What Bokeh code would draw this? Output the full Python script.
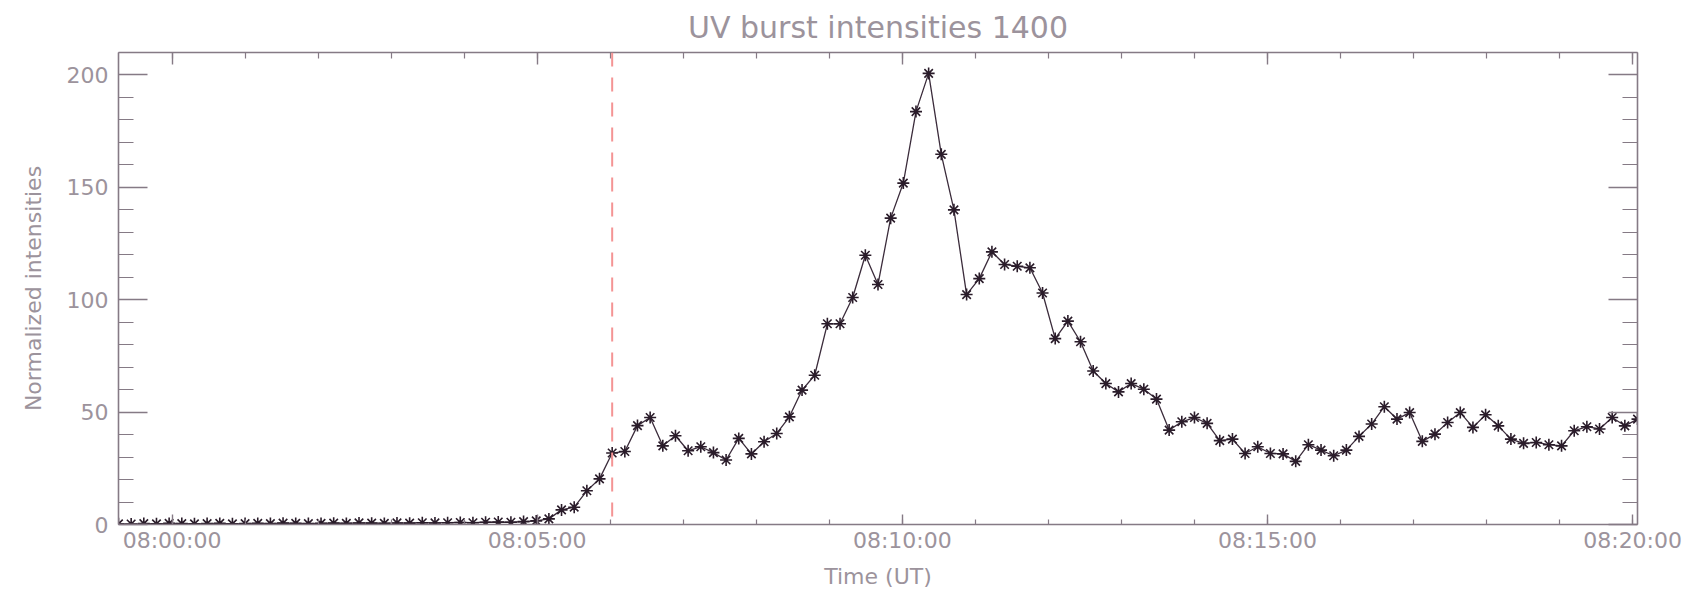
import pandas as pd
from bokeh.plotting import figure
from bokeh.models import (Range1d, FixedTicker, DatetimeAxis, LinearAxis,
                          DatetimeTickFormatter, CustomJSTickFormatter,
                          Span, ColumnDataSource)
from bokeh.embed import file_html
from bokeh.resources import INLINE

# IRIS SJI 1400 light curve of the UV burst, normalised intensities
START_TIME = "2014-09-03 07:59:16"
CADENCE_S = 10.4
intensity = [
    0.3, 0.2, 0.4, 0.3, 0.5, 0.4, 0.3, 0.4, 0.5, 0.3,
    0.4, 0.5, 0.4, 0.6, 0.5, 0.4, 0.5, 0.6, 0.5, 0.7,
    0.6, 0.5, 0.7, 0.6, 0.8, 0.7, 0.8, 0.9, 0.8, 1.0,
    1.1, 1.0, 1.3, 1.6, 2.5, 6.5, 7.7, 15.0, 20.3, 31.8,
    32.5, 44.0, 47.6, 35.0, 39.5, 32.8, 34.6, 32.0, 28.7, 38.3,
    31.4, 36.8, 40.5, 47.9, 59.8, 66.4, 89.3, 89.3, 101.0, 119.8,
    106.8, 136.3, 151.9, 183.7, 200.7, 164.7, 140.0, 102.3, 109.4, 121.3,
    115.7, 114.9, 114.2, 103.0, 82.7, 90.5, 81.3, 68.3, 62.7, 59.0,
    62.7, 60.2, 55.8, 42.0, 45.7, 47.6, 45.0, 37.3, 38.0, 31.6,
    34.6, 31.6, 31.4, 28.1, 35.5, 33.1, 30.6, 33.1, 39.2, 44.7,
    52.4, 46.9, 49.8, 37.0, 40.2, 45.4, 49.8, 43.2, 48.8, 43.9,
    38.0, 36.1, 36.5, 35.5, 35.0, 41.7, 43.5, 42.5, 47.6, 43.9,
    46.9,
]
MARK_INDEX = 39          # frame marked by the dashed line
y_ticks = [0, 50, 100, 150, 200]
y_minor = list(range(0, 211, 10))
x_tick_times = ["08:00:00", "08:05:00", "08:10:00", "08:15:00", "08:20:00"]

DAY = START_TIME.split()[0]
times = pd.Timestamp(START_TIME) + pd.to_timedelta(
    [i * CADENCE_S for i in range(len(intensity))], unit="s")
src = ColumnDataSource(dict(t=times, v=intensity))

major_ms = [pd.Timestamp(f"{DAY} {s}").value / 1e6 for s in x_tick_times]
minor_ms = [major_ms[0] + k * 60000 for k in range(-1, 21)]

AX = "#857a85"
TXT = "#9c939c"
FONT = "DejaVu Sans"

p = figure(width=1706, height=591, x_axis_type="datetime",
           output_backend="svg", toolbar_location=None,
           x_range=Range1d(times[0], times[-1]),
           y_range=Range1d(0, 210),
           min_border_left=118, min_border_right=69,
           min_border_top=51, min_border_bottom=67)
p.grid.visible = False
p.outline_line_color = None
p.background_fill_color = "white"
p.border_fill_color = "white"

p.title.text = "UV burst intensities 1400"
p.title.align = "center"
p.title.text_font = FONT
p.title.text_font_size = "30px"
p.title.text_font_style = "normal"
p.title.text_color = TXT
p.title.standoff = 15
p.title.offset = 0

xt = FixedTicker(ticks=major_ms, minor_ticks=minor_ms)
yt = FixedTicker(ticks=y_ticks, minor_ticks=y_minor)
fmt = DatetimeTickFormatter(seconds="%H:%M:%S", minsec="%H:%M:%S",
                            minutes="%H:%M:%S", hourmin="%H:%M:%S",
                            hours="%H:%M:%S")
blank = CustomJSTickFormatter(code="return ''")


def style(ax, tick_in, minor_in):
    ax.axis_line_color = AX
    ax.axis_line_width = 1.6
    ax.major_tick_line_color = AX
    ax.minor_tick_line_color = AX
    ax.major_tick_line_width = 1.4
    ax.minor_tick_line_width = 1.2
    ax.major_tick_in = tick_in
    ax.major_tick_out = 0
    ax.minor_tick_in = minor_in
    ax.minor_tick_out = 0
    ax.major_label_text_font = FONT
    ax.major_label_text_color = TXT
    ax.axis_label_text_font = FONT
    ax.axis_label_text_color = TXT
    ax.axis_label_text_font_style = "normal"


xb = p.xaxis[0]
xb.ticker = xt
xb.formatter = fmt
style(xb, 10, 5)
xb.major_label_text_font_size = "22px"
xb.major_label_text_line_height = 1.0
xb.major_label_standoff = 3
xb.axis_label = "Time (UT)"
xb.axis_label_text_font_size = "22px"
xb.axis_label_text_line_height = 1.0
xb.axis_label_standoff = 8

yl = p.yaxis[0]
yl.ticker = yt
style(yl, 29, 15)
yl.major_label_text_font_size = "22px"
yl.major_label_standoff = 10
yl.axis_label = "Normalized intensities"
yl.axis_label_text_font_size = "22px"
yl.axis_label_standoff = 18

# mirrored tick marks on the top and right edges, without labels
xtop = DatetimeAxis(ticker=xt, formatter=blank)
style(xtop, 12, 6)
xtop.major_label_standoff = 0
p.add_layout(xtop, "above")

yr = LinearAxis(ticker=yt, formatter=blank)
style(yr, 29, 15)
yr.major_label_standoff = 0
p.add_layout(yr, "right")

p.add_layout(Span(location=times[MARK_INDEX], dimension="height",
                  line_color="#f49494", line_width=2, line_dash="14 11"))

p.line("t", "v", source=src, line_color="#3b2c3b", line_width=1.3)
p.scatter("t", "v", source=src, marker="asterisk", size=12,
          line_color="#2a1c2a", line_width=1.6)

open("out.html", "w").write(file_html(p, INLINE))
